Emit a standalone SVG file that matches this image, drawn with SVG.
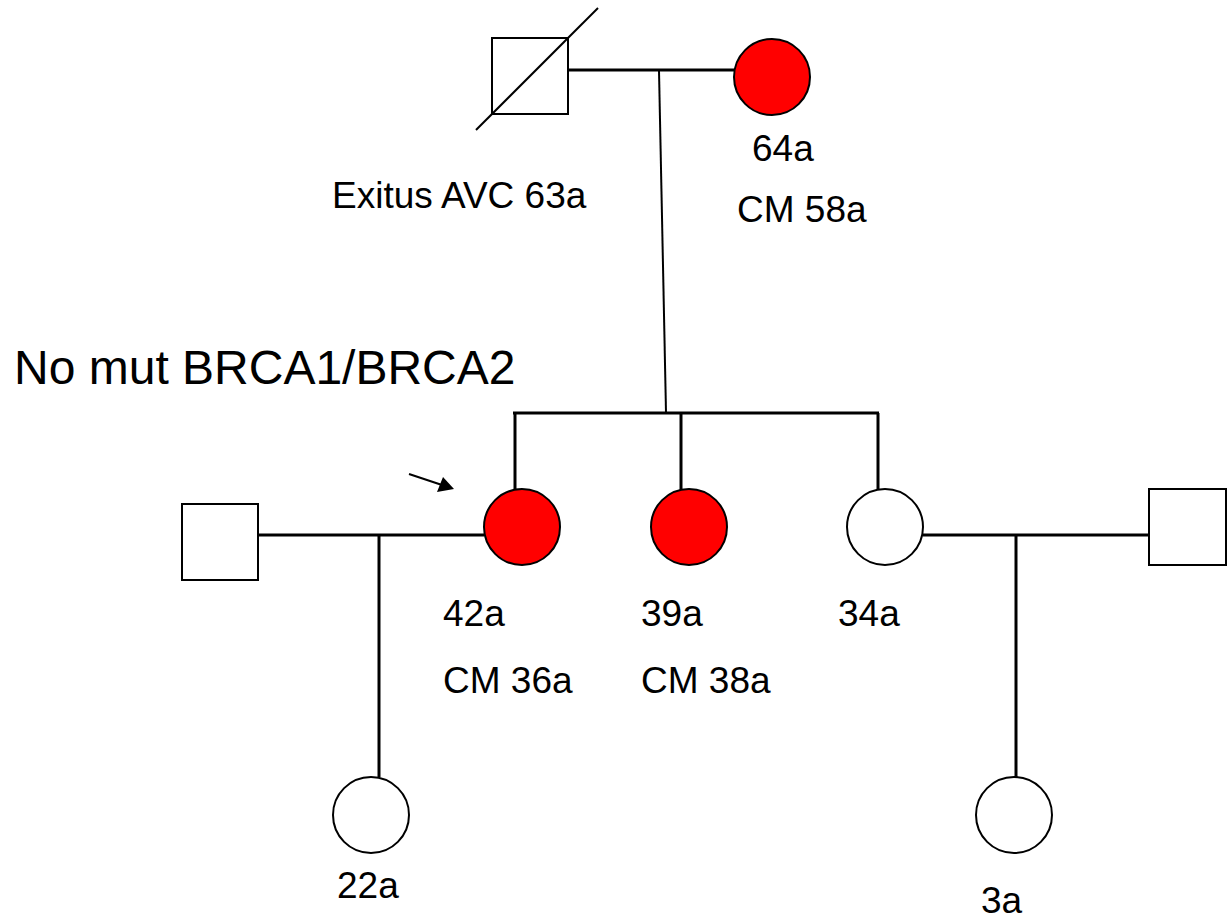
<svg xmlns="http://www.w3.org/2000/svg" width="1232" height="921" viewBox="0 0 1232 921">
<style>
.sh{fill:#fff;stroke:#000;stroke-width:2}
.aff{fill:#ff0000;stroke:#000;stroke-width:2}
.ln{stroke:#000;stroke-width:3;fill:none}
.thin{stroke:#000;stroke-width:2;fill:none}
.t{font-family:"Liberation Sans",Arial,sans-serif;font-size:37px;fill:#000}
.big{font-family:"Liberation Sans",Arial,sans-serif;font-size:48px;fill:#000}
</style>
<rect width="1232" height="921" fill="#fff"/>
<g id="connectors">
<line class="ln" x1="568" y1="70" x2="734" y2="70"/>
<line class="thin" x1="659" y1="71" x2="666" y2="412"/>
<line class="ln" x1="513" y1="413" x2="879" y2="413"/>
<line class="ln" x1="515" y1="413" x2="515" y2="490"/>
<line class="ln" x1="681" y1="413" x2="681" y2="490"/>
<line class="ln" x1="878" y1="413" x2="878" y2="490"/>
<line class="ln" x1="258" y1="535" x2="484" y2="535"/>
<line class="ln" x1="379" y1="535" x2="379" y2="777"/>
<line class="ln" x1="923" y1="535" x2="1149" y2="535"/>
<line class="ln" x1="1016" y1="535" x2="1016" y2="777"/>
</g>
<g id="arrow">
<line class="thin" x1="409" y1="474" x2="442" y2="485"/>
<polygon points="454,489 437,492 443,477" fill="#000"/>
</g>
<g id="grandfather">
<rect class="sh" x="492" y="38" width="76" height="76"/>
<line class="thin" x1="476" y1="130" x2="598" y2="8"/>
<text class="t" x="332" y="208">Exitus AVC 63a</text>
</g>
<g id="grandmother">
<circle class="aff" cx="772" cy="77" r="38"/>
<text class="t" x="752" y="161">64a</text>
<text class="t" x="737" y="222">CM 58a</text>
</g>
<g id="note">
<text class="big" x="14" y="384">No mut BRCA1/BRCA2</text>
</g>
<g id="husband-left">
<rect class="sh" x="182" y="504" width="76" height="76"/>
</g>
<g id="proband">
<circle class="aff" cx="522" cy="527" r="38"/>
<text class="t" x="443" y="626">42a</text>
<text class="t" x="443" y="693">CM 36a</text>
</g>
<g id="sister1">
<circle class="aff" cx="689" cy="527" r="38"/>
<text class="t" x="641" y="626">39a</text>
<text class="t" x="641" y="693">CM 38a</text>
</g>
<g id="sister2">
<circle class="sh" cx="885" cy="527" r="38"/>
<text class="t" x="838" y="626">34a</text>
</g>
<g id="husband-right">
<rect class="sh" x="1149" y="489" width="77" height="76"/>
</g>
<g id="daughter-left">
<circle class="sh" cx="371" cy="815" r="38"/>
<text class="t" x="337" y="898">22a</text>
</g>
<g id="daughter-right">
<circle class="sh" cx="1014" cy="815" r="38"/>
<text class="t" x="981" y="913">3a</text>
</g>
</svg>
